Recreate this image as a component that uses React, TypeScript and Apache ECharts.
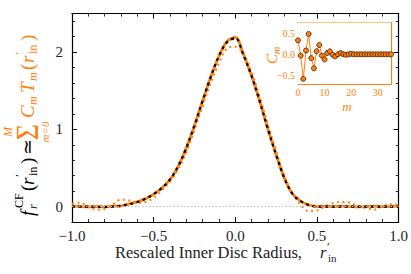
import { useEffect, useRef } from 'react';
import * as echarts from 'echarts';

// Rescaled inner disc radius grid
const R_IN = [
  -1.0, -0.95, -0.9, -0.85, -0.8, -0.75, -0.7, -0.65, -0.6, -0.55,
  -0.5, -0.45, -0.4, -0.35, -0.3, -0.25, -0.2, -0.15, -0.1, -0.05,
  0.0, 0.05, 0.1, 0.15, 0.2, 0.25, 0.3, 0.35, 0.4, 0.45,
  0.5, 0.55, 0.6, 0.65, 0.7, 0.75, 0.8, 0.85, 0.9, 0.95, 1.0,
];
// true function f_r^CF (black dashed)
const F_TRUE = [
  0.0, 0.0, 0.0, -0.005, -0.005, 0.0, 0.01, 0.03, 0.06, 0.1,
  0.16, 0.24, 0.35, 0.52, 0.76, 1.05, 1.37, 1.68, 1.95, 2.13,
  2.18, 1.96, 1.69, 1.36, 1.0, 0.67, 0.37, 0.165, 0.07, 0.02,
  0.0, 0.0, 0.0, 0.0, 0.0, 0.0, 0.0, 0.0, 0.0, 0.0, 0.0,
];
// Chebyshev reconstruction (orange solid)
const F_CHEB = [
  0.01, 0.0, -0.005, 0.0, -0.005, 0.005, 0.01, 0.035, 0.06, 0.1,
  0.16, 0.24, 0.35, 0.52, 0.76, 1.05, 1.37, 1.68, 1.95, 2.14,
  2.19, 1.97, 1.69, 1.36, 1.0, 0.67, 0.37, 0.165, 0.07, 0.02,
  0.0, 0.005, 0.0, 0.005, 0.0, -0.005, 0.0, 0.005, 0.0, 0.0, 0.01,
];
// low-order reconstruction (orange dotted)
const F_LOW = [
  0.04, 0.05, 0.0, -0.04, -0.03, 0.03, 0.09, 0.08, 0.05, 0.06,
  0.11, 0.21, 0.32, 0.48, 0.7, 0.99, 1.3, 1.6, 1.86, 2.05,
  2.07, 1.98, 1.74, 1.42, 1.06, 0.72, 0.4, 0.17, 0.02, -0.06,
  -0.05, 0.0, 0.045, 0.06, 0.05, 0.01, -0.02, -0.04, 0.0, 0.03, 0.02,
];
const Y_TICKS = [0, 1, 2];

// inset: Chebyshev coefficients
const M_IDX = [
  0, 1, 2, 3, 4, 5, 6, 7, 8, 9, 10, 11, 12, 13, 14, 15, 16, 17,
  18, 19, 20, 21, 22, 23, 24, 25, 26, 27, 28, 29, 30, 31, 32, 33, 34, 35,
];
const C_M = [
  0.33, -0.03, -0.58, 0.09, 0.48, -0.09, -0.33, 0.07, 0.22, -0.03, -0.12, 0.03,
  0.07, -0.01, -0.05, 0.0, 0.03, 0.0, -0.01, 0.0, 0.01, 0.0, 0.0, 0.0,
  0.0, 0.0, 0.0, 0.0, 0.0, 0.0, 0.0, 0.0, 0.0, 0.0, 0.0, 0.0,
];
const INSET_X_TICKS = [0, 10, 20, 30];
const INSET_Y_TICKS = [-0.5, 0, 0.5];

const ORANGE = '#ff7f0e';
const SERIF = "'Liberation Serif', 'DejaVu Serif', serif";
const fmt = (v: number) => v.toFixed(1).replace('-', '\u2212');

function txt(
  t: string, x: number, y: number, size: number, color: string,
  italic = false, align = 'left', extra: Record<string, number> = {},
) {
  return {
    type: 'text',
    x,
    y,
    ...extra,
    style: {
      text: t,
      fill: color,
      font: `${italic ? 'italic ' : ''}${size}px ${SERIF}`,
      align,
      textAlign: align,
      verticalAlign: 'middle',
      textVerticalAlign: 'middle',
    },
  };
}

export default function App() {
  const ref = useRef<HTMLDivElement>(null);
  useEffect(() => {
    if (!ref.current) return;
    const chart = echarts.init(ref.current, undefined, { renderer: 'svg' });

    const blackLine = { color: '#000', width: 1.2 };
    const mainX = (pos: 'bottom' | 'top', labels: boolean) => ({
      type: 'value',
      gridIndex: 0,
      position: pos,
      min: -1,
      max: 1,
      interval: 0.5,
      axisLine: { show: true, onZero: false, lineStyle: blackLine },
      axisTick: { show: true, inside: true, length: 5, lineStyle: { color: '#000', width: 1 } },
      minorTick: { show: true, splitNumber: 5, length: 3, lineStyle: { color: '#000', width: 0.8 } },
      axisLabel: {
        show: labels,
        formatter: fmt,
        fontFamily: SERIF,
        fontSize: 15,
        color: '#222',
        margin: 6,
      },
      splitLine: { show: false },
    });
    const mainYMajor = (pos: 'left' | 'right', labels: boolean) => ({
      type: 'value',
      gridIndex: 0,
      position: pos,
      min: -0.2,
      max: 2.5,
      axisLine: { show: true, onZero: false, lineStyle: blackLine },
      axisTick: { show: true, inside: true, length: 5, customValues: Y_TICKS, lineStyle: { color: '#000', width: 1 } },
      axisLabel: {
        show: labels,
        customValues: Y_TICKS,
        formatter: (v: number) => String(Math.round(v)),
        fontFamily: SERIF,
        fontSize: 15,
        color: '#222',
        margin: 9,
      },
      splitLine: { show: false },
    });
    const mainYMinor = (pos: 'left' | 'right') => ({
      type: 'value',
      gridIndex: 0,
      position: pos,
      min: -0.2,
      max: 2.5,
      interval: 0.2,
      axisLine: { show: false, onZero: false },
      axisTick: { show: true, inside: true, length: 3, lineStyle: { color: '#000', width: 0.8 } },
      axisLabel: { show: false },
      splitLine: { show: false },
    });

    const orangeLine = { color: ORANGE, width: 1.2 };
    const insetXMajor = (pos: 'bottom' | 'top', labels: boolean) => ({
      type: 'value',
      gridIndex: 1,
      position: pos,
      min: 0,
      max: 35,
      axisLine: { show: true, onZero: false, lineStyle: orangeLine },
      axisTick: { show: true, inside: true, length: 4, customValues: INSET_X_TICKS, lineStyle: { color: ORANGE, width: 1 } },
      axisLabel: {
        show: labels,
        customValues: INSET_X_TICKS,
        fontFamily: SERIF,
        fontSize: 10,
        color: ORANGE,
        margin: 3,
      },
      splitLine: { show: false },
    });
    const insetXMinor = (pos: 'bottom' | 'top') => ({
      type: 'value',
      gridIndex: 1,
      position: pos,
      min: 0,
      max: 35,
      interval: 2,
      axisLine: { show: false, onZero: false },
      axisTick: { show: true, inside: true, length: 2, lineStyle: { color: ORANGE, width: 0.8 } },
      axisLabel: { show: false },
      splitLine: { show: false },
    });
    const insetYMajor = (pos: 'left' | 'right', labels: boolean) => ({
      type: 'value',
      gridIndex: 1,
      position: pos,
      min: -0.7,
      max: 0.75,
      axisLine: { show: true, onZero: false, lineStyle: orangeLine },
      axisTick: { show: true, inside: true, length: 4, customValues: INSET_Y_TICKS, lineStyle: { color: ORANGE, width: 1 } },
      axisLabel: {
        show: labels,
        customValues: INSET_Y_TICKS,
        formatter: fmt,
        fontFamily: SERIF,
        fontSize: 10,
        color: ORANGE,
        margin: 3,
      },
      splitLine: { show: false },
    });
    const insetYMinor = (pos: 'left' | 'right') => ({
      type: 'value',
      gridIndex: 1,
      position: pos,
      min: -0.7,
      max: 0.75,
      interval: 0.1,
      axisLine: { show: false, onZero: false },
      axisTick: { show: true, inside: true, length: 2, lineStyle: { color: ORANGE, width: 0.8 } },
      axisLabel: { show: false },
      splitLine: { show: false },
    });

    const yTitle = {
      type: 'group',
      x: 27,
      y: 216,
      rotation: Math.PI / 2,
      children: [
        txt('f', 0, 0, 19, '#000', true),
        txt('CF', 8, -8, 12, '#000'),
        txt('r', 7, 6, 12, '#000', true),
        txt('(', 25, 0, 19, '#000'),
        txt('r', 31, 0, 19, '#000', true),
        txt('\u2032', 39, -8, 13, '#000'),
        txt('in', 40, 6, 12, '#000'),
        txt(')', 52, 0, 19, '#000'),
        txt('\u2243', 61, 0, 19, '#000'),
        txt('\u03A3', 84, 0, 28, ORANGE, false, 'center', { scaleY: 1.15 }),
        txt('M', 84, -19, 12, ORANGE, true, 'center'),
        txt('m=0', 84, 18, 11, ORANGE, true, 'center'),
        txt('C', 98, 0, 19, ORANGE, true),
        txt('m', 111, 6, 12, ORANGE, true),
        txt('T', 123, 0, 19, ORANGE, true),
        txt('m', 135, 6, 12, ORANGE, true),
        txt('(', 146, 0, 19, ORANGE),
        txt('r', 153, 0, 19, ORANGE, true),
        txt('\u2032', 161, -8, 13, ORANGE),
        txt('in', 162, 6, 12, ORANGE),
        txt(')', 175, 0, 19, ORANGE),
      ],
    };
    const xTitle = {
      type: 'group',
      x: 0,
      y: 0,
      children: [
        txt('Rescaled Inner Disc Radius,', 115, 252, 16.5, '#222'),
        txt('r', 320, 252, 16.5, '#222', true),
        txt('\u2032', 327, 247, 12, '#222'),
        txt('in', 328, 258, 11, '#222'),
      ],
    };
    const insetTitles = [
      txt('m', 347, 106, 13, ORANGE, true, 'center'),
      {
        type: 'group',
        x: 272,
        y: 64,
        rotation: Math.PI / 2,
        children: [txt('C', 0, 0, 15, ORANGE, true), txt('m', 10, 4, 10, ORANGE, true)],
      },
    ];

    chart.setOption({
      animation: false,
      backgroundColor: '#fff',
      grid: [
        { left: 72, top: 13.5, width: 328, height: 208.5, show: false },
        { left: 298, top: 22.5, width: 93, height: 61.5, show: true, backgroundColor: '#fff', borderWidth: 0, z: 5 },
      ],
      xAxis: [
        mainX('bottom', true),
        mainX('top', false),
        insetXMajor('bottom', true),
        insetXMinor('bottom'),
        insetXMajor('top', false),
        insetXMinor('top'),
      ],
      yAxis: [
        mainYMajor('left', true),
        mainYMinor('left'),
        mainYMajor('right', false),
        mainYMinor('right'),
        insetYMajor('left', true),
        insetYMinor('left'),
        insetYMajor('right', false),
        insetYMinor('right'),
      ],
      graphic: [yTitle, xTitle, ...insetTitles],
      series: [
        {
          type: 'line',
          xAxisIndex: 0,
          yAxisIndex: 0,
          data: R_IN.map((r, i) => [r, F_LOW[i]]),
          smooth: 0.35,
          showSymbol: false,
          lineStyle: { color: ORANGE, width: 2, type: [2, 3.5], cap: 'butt' },
          markLine: {
            silent: true,
            symbol: ['none', 'none'],
            label: { show: false },
            lineStyle: { color: '#bbb', width: 1, type: [1.5, 2] },
            data: [{ yAxis: 0 }],
          },
          z: 2,
        },
        {
          type: 'line',
          xAxisIndex: 0,
          yAxisIndex: 0,
          data: R_IN.map((r, i) => [r, F_CHEB[i]]),
          smooth: 0.35,
          showSymbol: false,
          lineStyle: { color: ORANGE, width: 2.8 },
          z: 3,
        },
        {
          type: 'line',
          xAxisIndex: 0,
          yAxisIndex: 0,
          data: R_IN.map((r, i) => [r, F_TRUE[i]]),
          smooth: 0.35,
          showSymbol: false,
          lineStyle: { color: '#000', width: 2.2, type: [3, 3.5], cap: 'butt' },
          z: 4,
        },
        {
          type: 'line',
          xAxisIndex: 2,
          yAxisIndex: 4,
          data: M_IDX.map((m, i) => [m, C_M[i]]),
          symbol: 'circle',
          symbolSize: 5,
          showSymbol: true,
          itemStyle: { color: ORANGE, borderColor: '#3a2000', borderWidth: 0.8 },
          lineStyle: { color: ORANGE, width: 1 },
          z: 10,
        },
      ],
    });
    return () => chart.dispose();
  }, []);
  return (
    <div
      ref={ref}
      style={{ position: 'fixed', left: 0, top: 0, width: 411, height: 274, background: '#fff' }}
    />
  );
}
